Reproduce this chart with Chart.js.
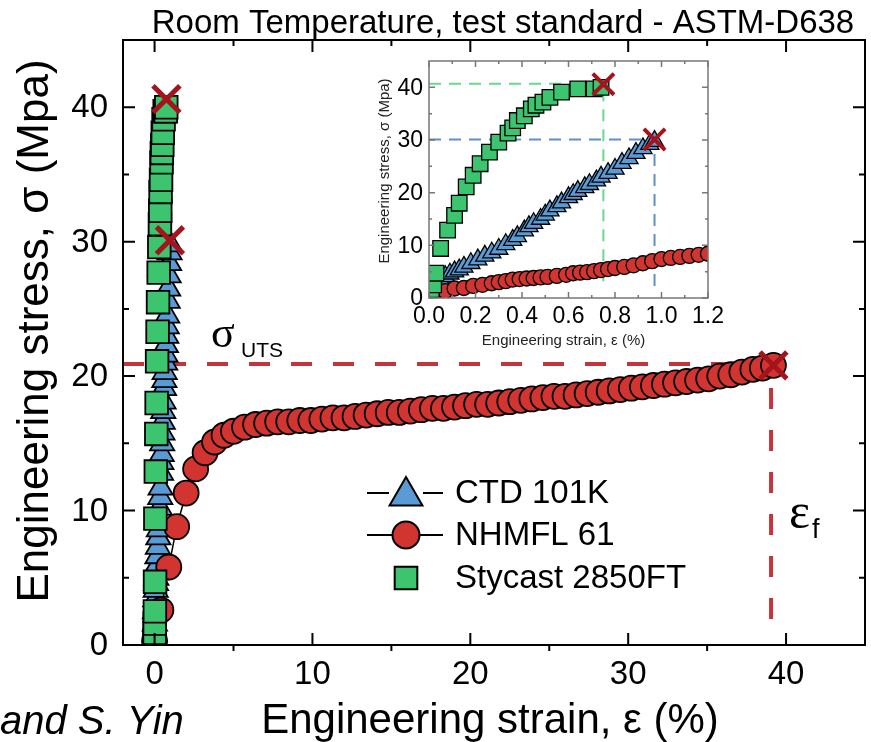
<!DOCTYPE html>
<html>
<head>
<meta charset="utf-8">
<script src="https://cdn.jsdelivr.net/npm/chart.js@4.4.1/dist/chart.umd.min.js"></script>
<style>
  body { margin: 0; background: #fff; }
  #wrap { position: relative; width: 871px; height: 742px; overflow: hidden; }
  #main-chart { position: absolute; left: 0; top: 0; }
  #inset-chart { position: absolute; left: 368px; top: 55px; }
</style>
</head>
<body>
<div id="wrap">
  <canvas id="main-chart" width="871" height="742"></canvas>
  <canvas id="inset-chart" width="365" height="296"></canvas>
</div>
<script>
// --- Data ---
const mainXTicks = [0, 10, 20, 30, 40];
const mainYTicks = [0, 10, 20, 30, 40];
const insetXTicks = [0, 0.2, 0.4, 0.6, 0.8, 1.0, 1.2];
const insetYTicks = [0, 10, 20, 30, 40];

// CTD 101K (triangles)
const ctdStrain = [0.00, 0.01, 0.02, 0.03, 0.05, 0.07, 0.09, 0.11, 0.13, 0.15, 0.18, 0.21, 0.24, 0.27,
  0.30, 0.33, 0.36, 0.38, 0.41, 0.43, 0.45, 0.48, 0.50, 0.52, 0.55, 0.57, 0.60, 0.62, 0.64, 0.67,
  0.69, 0.72, 0.74, 0.77, 0.80, 0.83, 0.86, 0.89, 0.92, 0.95, 0.97];
const ctdStress = [0.2, 0.8, 1.6, 2.5, 3.4, 4.1, 4.6, 5.0, 5.4, 5.9, 6.6, 7.3, 8.0, 8.6,
  9.3, 10.2, 11.0, 11.7, 12.8, 13.6, 14.2, 15.0, 15.8, 16.6, 17.4, 18.1, 19.1, 19.7, 20.3, 21.0,
  21.6, 22.3, 23.0, 23.7, 24.5, 25.6, 26.5, 27.5, 28.4, 29.2, 29.8];

// NHMFL 61 (circles), whole test as sampled in the main plot
const nhmflStrain = [0.0, 0.4, 0.9, 1.4, 2.0, 2.6, 3.2, 3.8, 4.4, 5.0, 5.7, 6.4, 7.1, 7.8, 8.5,
  9.2, 9.9, 10.6, 11.3, 12.0, 12.7, 13.4, 14.1, 14.8, 15.5, 16.2, 16.9, 17.6, 18.3, 19.0, 19.7,
  20.4, 21.1, 21.8, 22.5, 23.2, 23.9, 24.6, 25.3, 26.0, 26.7, 27.4, 28.1, 28.8, 29.5, 30.2, 30.9,
  31.6, 32.3, 33.0, 33.7, 34.4, 35.1, 35.8, 36.5, 37.2, 37.9, 38.5, 39.2];
const nhmflStress = [0.3, 2.6, 5.8, 8.8, 11.3, 13.1, 14.3, 15.1, 15.6, 15.9, 16.2, 16.4, 16.5, 16.6, 16.6,
  16.7, 16.7, 16.8, 16.9, 16.9, 17.0, 17.1, 17.2, 17.3, 17.3, 17.4, 17.5, 17.6, 17.6, 17.7, 17.8,
  17.9, 17.9, 18.0, 18.1, 18.2, 18.3, 18.4, 18.5, 18.5, 18.6, 18.7, 18.8, 18.9, 19.0, 19.1, 19.2,
  19.3, 19.4, 19.5, 19.6, 19.7, 19.8, 20.0, 20.1, 20.3, 20.5, 20.6, 20.8];

// NHMFL 61, start of the test as sampled in the inset
const nhmflInsetStrain = [0.00, 0.03, 0.07, 0.11, 0.15, 0.19, 0.23, 0.27, 0.30, 0.33, 0.36, 0.39, 0.42,
  0.45, 0.48, 0.51, 0.55, 0.59, 0.62, 0.65, 0.68, 0.71, 0.74, 0.77, 0.80, 0.84, 0.88, 0.92, 0.96,
  1.00, 1.04, 1.08, 1.12, 1.16, 1.20, 1.24];
const nhmflInsetStress = [0.3, 0.9, 1.3, 1.8, 1.9, 2.3, 2.5, 2.8, 3.0, 3.2, 3.5, 3.6, 3.7,
  3.8, 3.9, 4.0, 4.2, 4.4, 4.7, 4.8, 4.9, 5.1, 5.3, 5.5, 5.7, 5.9, 6.2, 6.6, 7.0,
  7.4, 7.6, 7.8, 8.0, 8.2, 8.4, 8.6];

// Stycast 2850FT (squares)
const stycastStrain = [0.00, 0.005, 0.01, 0.02, 0.03, 0.05, 0.08, 0.11, 0.13, 0.16, 0.19, 0.22, 0.26,
  0.30, 0.34, 0.36, 0.38, 0.41, 0.44, 0.46, 0.49, 0.52, 0.57, 0.64, 0.71, 0.74];
const stycastStress = [0.3, 0.9, 1.6, 2.5, 4.7, 9.4, 12.9, 15.7, 18.0, 21.1, 23.3, 25.5, 27.7,
  29.6, 31.3, 32.3, 33.7, 34.6, 35.9, 36.6, 37.2, 38.1, 39.1, 39.7, 39.7, 40.0];

// fracture points: Stycast, CTD, NHMFL
const breakStrain = [0.75, 0.97, 39.2];
const breakStress = [40.6, 30.1, 20.8];

// guide lines
const nhmflUts = 20.9, nhmflFail = 39.05;
const stycastUts = 40.7, stycastFail = 0.75;
const ctdUts = 30.1, ctdFail = 0.97;

// --- Helpers ---
const GREEN = '#3dc46e', BLUE = '#5b9bd5', RED = '#d2352f', CROSS = '#a5141c';
const FONT = "'Liberation Sans', Arial, sans-serif";
const SERIF = "'Liberation Serif', 'Times New Roman', serif";
const toPoints = (xs, ys) => xs.map((x, i) => ({ x, y: ys[i] }));

function seriesSets(big) {
    const r = big ? { tri: 14, circ: 12.5, sq: 16, x: 19, bw: 1.8 } : { tri: 10.5, circ: 7.5, sq: 11, x: 15, bw: 1.3 };
    const redX = big ? nhmflStrain : nhmflInsetStrain;
    const redY = big ? nhmflStress : nhmflInsetStress;
    return [
        { data: toPoints(breakStrain, breakStress), pointStyle: 'crossRot', pointRadius: r.x,
          pointBorderColor: CROSS, pointBorderWidth: big ? 5 : 4, showLine: false },
        { label: 'Stycast 2850FT', data: toPoints(stycastStrain, stycastStress), pointStyle: 'rect',
          pointRadius: r.sq, pointBackgroundColor: GREEN, pointBorderColor: '#000', pointBorderWidth: r.bw,
          showLine: false, keyRadius: 16 },
        { label: 'NHMFL 61', data: toPoints(redX, redY), pointStyle: 'circle',
          pointRadius: r.circ, pointBackgroundColor: RED, pointBorderColor: '#000', pointBorderWidth: r.bw,
          showLine: true, borderColor: '#000', borderWidth: 1.5, keyRadius: 13.5 },
        { label: 'CTD 101K', data: toPoints(ctdStrain, ctdStress), pointStyle: 'triangle',
          pointRadius: r.tri, pointBackgroundColor: BLUE, pointBorderColor: '#000', pointBorderWidth: r.bw,
          showLine: true, borderColor: '#000', borderWidth: 1.5, keyRadius: 19, keyGap: true },
    ];
}

function guide(xs, ys, color, width, dash) {
    return { data: toPoints(xs, ys), showLine: true, pointRadius: 0, borderColor: color,
             borderWidth: width, borderDash: dash, fill: false };
}

// frame, ticks on all four sides, tick labels and axis titles
// (labels are drawn here so Chart.js adds no overhang padding to the plot box)
function frameTicks(cfg) {
    return {
        id: 'frameTicks',
        afterDraw(chart) {
            const { ctx, chartArea: a, scales: { x, y } } = chart;
            ctx.save();
            ctx.strokeStyle = cfg.color;
            ctx.lineWidth = cfg.width;
            ctx.strokeRect(a.left, a.top, a.right - a.left, a.bottom - a.top);
            ctx.beginPath();
            const mark = (px, py, dx, dy) => { ctx.moveTo(px, py); ctx.lineTo(px + dx, py + dy); };
            cfg.xMajor.forEach(v => {
                const px = x.getPixelForValue(v);
                mark(px, a.bottom, 0, -cfg.major);
                mark(px, a.top, 0, cfg.major);
            });
            cfg.xMinor.forEach(v => {
                const px = x.getPixelForValue(v);
                mark(px, a.bottom, 0, cfg.minorOut ? cfg.minor : -cfg.minor);
                mark(px, a.top, 0, cfg.minor);
            });
            cfg.yMajor.forEach(v => {
                const py = y.getPixelForValue(v);
                mark(a.left, py, cfg.major, 0);
                mark(a.right, py, -cfg.major, 0);
            });
            cfg.yMinor.forEach(v => {
                const py = y.getPixelForValue(v);
                mark(a.left, py, cfg.minor, 0);
                mark(a.right, py, -cfg.minor, 0);
            });
            ctx.stroke();

            // tick labels
            ctx.fillStyle = '#000';
            ctx.font = `${cfg.labelSize}px ${FONT}`;
            ctx.textBaseline = 'middle';
            ctx.textAlign = 'center';
            cfg.xMajor.forEach(v => ctx.fillText(cfg.fmtX(v), x.getPixelForValue(v), a.bottom + cfg.xLabelDrop));
            ctx.textAlign = 'right';
            cfg.yMajor.forEach(v => ctx.fillText(String(v), a.left - cfg.yLabelGap, y.getPixelForValue(v) + 1));

            // axis titles
            ctx.fillStyle = cfg.titleColor;
            ctx.textAlign = 'center';
            ctx.font = `${cfg.xTitle.size}px ${FONT}`;
            ctx.fillText(cfg.xTitle.text, (a.left + a.right) / 2 + cfg.xTitle.dx, cfg.xTitle.y);
            ctx.translate(cfg.yTitle.x, cfg.yTitle.y);
            ctx.rotate(-Math.PI / 2);
            ctx.font = `${cfg.yTitle.size}px ${FONT}`;
            ctx.fillText(cfg.yTitle.text, 0, 0);
            ctx.restore();
        }
    };
}

const whiteBg = {
    id: 'whiteBg',
    beforeDraw(chart) {
        const { ctx, width, height } = chart;
        ctx.save();
        ctx.fillStyle = '#fff';
        ctx.fillRect(0, 0, width, height);
        ctx.restore();
    }
};

// title, annotations and the key of the main chart
const mainText = {
    id: 'mainText',
    afterDraw(chart) {
        const { ctx } = chart;
        ctx.save();
        ctx.fillStyle = '#000';
        ctx.textBaseline = 'alphabetic';

        ctx.textAlign = 'center';
        ctx.font = `33px ${FONT}`;
        ctx.fillText('Room Temperature, test standard - ASTM-D638', 503, 33);

        ctx.textAlign = 'left';
        ctx.font = `44px ${SERIF}`;
        ctx.fillText('σ', 211, 347);
        ctx.font = `21px ${FONT}`;
        ctx.fillText('UTS', 241, 357);
        ctx.font = `50px ${SERIF}`;
        ctx.fillText('ε', 789, 528);
        ctx.font = `27px ${FONT}`;
        ctx.fillText('f', 812, 538);

        ctx.font = `italic 40px ${FONT}`;
        ctx.fillText('and S. Yin', 0, 734);

        // key
        const rows = ['CTD 101K', 'NHMFL 61', 'Stycast 2850FT'];
        const rowY = [493, 535, 578];
        rows.forEach((name, i) => {
            const ds = chart.data.datasets.find(d => d.label === name);
            const yy = rowY[i];
            if (ds.showLine) {
                ctx.strokeStyle = '#000';
                ctx.lineWidth = 2;
                ctx.beginPath();
                if (ds.keyGap) {
                    ctx.moveTo(367, yy); ctx.lineTo(389, yy);
                    ctx.moveTo(423, yy); ctx.lineTo(443, yy);
                } else {
                    ctx.moveTo(367, yy); ctx.lineTo(443, yy);
                }
                ctx.stroke();
            }
            ctx.fillStyle = ds.pointBackgroundColor;
            ctx.strokeStyle = '#000';
            ctx.lineWidth = 2;
            Chart.helpers.drawPoint(ctx, { pointStyle: ds.pointStyle, radius: ds.keyRadius, borderWidth: 2, rotation: 0 },
                406, ds.pointStyle === 'triangle' ? yy + 3 : yy);
            ctx.fillStyle = '#000';
            ctx.font = `33px ${FONT}`;
            ctx.textBaseline = 'middle';
            ctx.fillText(name, 455, yy + 1);
        });
        ctx.restore();
    }
};

const hiddenAxis = { grid: { display: false, drawTicks: false }, border: { display: false }, ticks: { display: false } };

// --- Main chart ---
new Chart(document.getElementById('main-chart'), {
    type: 'scatter',
    data: {
        datasets: [
            ...seriesSets(true),
            guide([-2, nhmflFail, nhmflFail], [nhmflUts, nhmflUts, 0.8], '#c4353b', 4, [21, 21]),
        ]
    },
    options: {
        responsive: false,
        animation: false,
        devicePixelRatio: 1,
        events: [],
        layout: { autoPadding: false, padding: { top: 40, right: 6, left: 0, bottom: 0 } },
        plugins: { legend: { display: false }, tooltip: { enabled: false } },
        scales: {
            x: { type: 'linear', min: -2, max: 45, ...hiddenAxis, afterFit: s => { s.height = 97; } },
            y: { type: 'linear', min: 0, max: 45, ...hiddenAxis, afterFit: s => { s.width = 123; } }
        }
    },
    plugins: [whiteBg, frameTicks({
        color: '#000', width: 2, major: 12, minor: 6, minorOut: true,
        xMajor: mainXTicks, xMinor: [5, 15, 25, 35], yMajor: mainYTicks, yMinor: [5, 15, 25, 35],
        labelSize: 33, fmtX: v => String(v), xLabelDrop: 30, yLabelGap: 15, titleColor: '#000',
        xTitle: { text: 'Engineering strain, ε (%)', size: 42, y: 721, dx: -4 },
        yTitle: { text: 'Engineering stress, σ (Mpa)', size: 44, x: 36, y: 331 }
    }), mainText]
});

// --- Inset chart (first 1.2 % of strain) ---
new Chart(document.getElementById('inset-chart'), {
    type: 'scatter',
    data: {
        datasets: [
            ...seriesSets(false),
            guide([0, stycastFail, stycastFail], [stycastUts, stycastUts, 2], '#6bd692', 2, [12, 8]),
            guide([0, ctdFail, ctdFail], [ctdUts, ctdUts, 2], '#5f8fc4', 2, [12, 8]),
        ]
    },
    options: {
        responsive: false,
        animation: false,
        devicePixelRatio: 1,
        events: [],
        layout: { autoPadding: false, padding: { top: 6, right: 25, left: 0, bottom: 0 } },
        plugins: { legend: { display: false }, tooltip: { enabled: false } },
        scales: {
            x: { type: 'linear', min: 0, max: 1.2, ...hiddenAxis, afterFit: s => { s.height = 53; } },
            y: { type: 'linear', min: 0, max: 45, ...hiddenAxis, afterFit: s => { s.width = 61; } }
        }
    },
    plugins: [whiteBg, frameTicks({
        color: '#777', width: 1.5, major: 6, minor: 3, minorOut: false,
        xMajor: insetXTicks, xMinor: [0.1, 0.3, 0.5, 0.7, 0.9, 1.1], yMajor: insetYTicks, yMinor: [5, 15, 25, 35],
        labelSize: 23, fmtX: v => v.toFixed(1), xLabelDrop: 19, yLabelGap: 6, titleColor: '#222',
        xTitle: { text: 'Engineering strain, ε (%)', size: 15, y: 286, dx: -5 },
        yTitle: { text: 'Engineering stress, σ (Mpa)', size: 15, x: 17, y: 116 }
    })]
});
</script>
</body>
</html>
